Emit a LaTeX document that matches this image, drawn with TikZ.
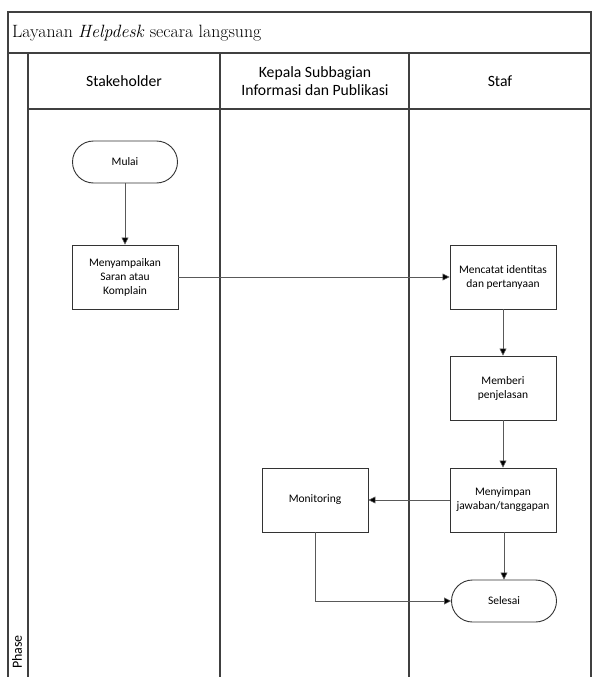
\documentclass[tikz,border=0pt]{standalone}
\usepackage{fontspec}
\setsansfont{Carlito}
\usetikzlibrary{arrows.meta}
\begin{document}
\begin{tikzpicture}[x=1pt,y=-1pt,
  lane/.style={draw=black!75, line width=1.1pt},
  proc/.style={draw=black!80, line width=0.9pt, minimum width=106pt, minimum height=64pt, align=center, font=\sffamily\fontsize{11.5}{14}\selectfont, inner sep=1pt},
  term/.style={draw=black!80, line width=0.9pt, rounded corners=21pt, minimum width=105pt, minimum height=42pt, align=center, font=\sffamily\fontsize{11.5}{14}\selectfont},
  arr/.style={draw=black!65, line width=0.6pt, -{Triangle[length=7pt,width=7pt,fill=black]}},
  head/.style={font=\sffamily\fontsize{15.7}{18.5}\selectfont, align=center}]
\useasboundingbox (0,0) rectangle (592,677);
% frame
\draw[lane] (8,677) -- (8,12) -- (591,12) -- (591,677);
\draw[lane] (8,53) -- (591,53);
\draw[lane] (28,109) -- (591,109);
\draw[lane] (28,53) -- (28,677);
\draw[lane] (220,53) -- (220,677);
\draw[lane] (409,53) -- (409,677);
% title
\node[anchor=west, font=\fontsize{17.8}{20}\selectfont, inner sep=0pt] (title) at (12,33) {Layanan \textit{Helpdesk} secara langsung};
% headers
\node[head] (h1) at (124,81) {Stakeholder};
\node[head] (h2) at (315,81) {Kepala Subbagian\\Informasi dan Publikasi};
\node[head] (h3) at (500,81) {Staf};
\node[font=\sffamily\fontsize{14}{16}\selectfont, rotate=90, anchor=west, inner sep=0pt] (phase) at (17,669) {Phase};
% nodes
\node[term] (mulai) at (125,162) {Mulai};
\node[proc] (saran) at (125,277) {Menyampaikan\\Saran atau\\Komplain};
\node[proc] (catat) at (503,277) {Mencatat identitas\\dan pertanyaan};
\node[proc] (beri) at (503,388) {Memberi\\penjelasan};
\node[proc] (simpan) at (503,500) {Menyimpan\\jawaban/tanggapan};
\node[proc] (mon) at (315,500) {Monitoring};
\node[term] (selesai) at (504,601) {Selesai};
% connectors
\draw[arr] (mulai) -- (saran);
\draw[arr] (saran) -- (catat);
\draw[arr] (catat) -- (beri);
\draw[arr] (beri) -- (simpan);
\draw[arr] (simpan) -- (mon);
\draw[arr] (simpan.south -| selesai.north) -- (selesai.north);
\draw[arr] (mon.south) |- (selesai.west);
\end{tikzpicture}
\end{document}
